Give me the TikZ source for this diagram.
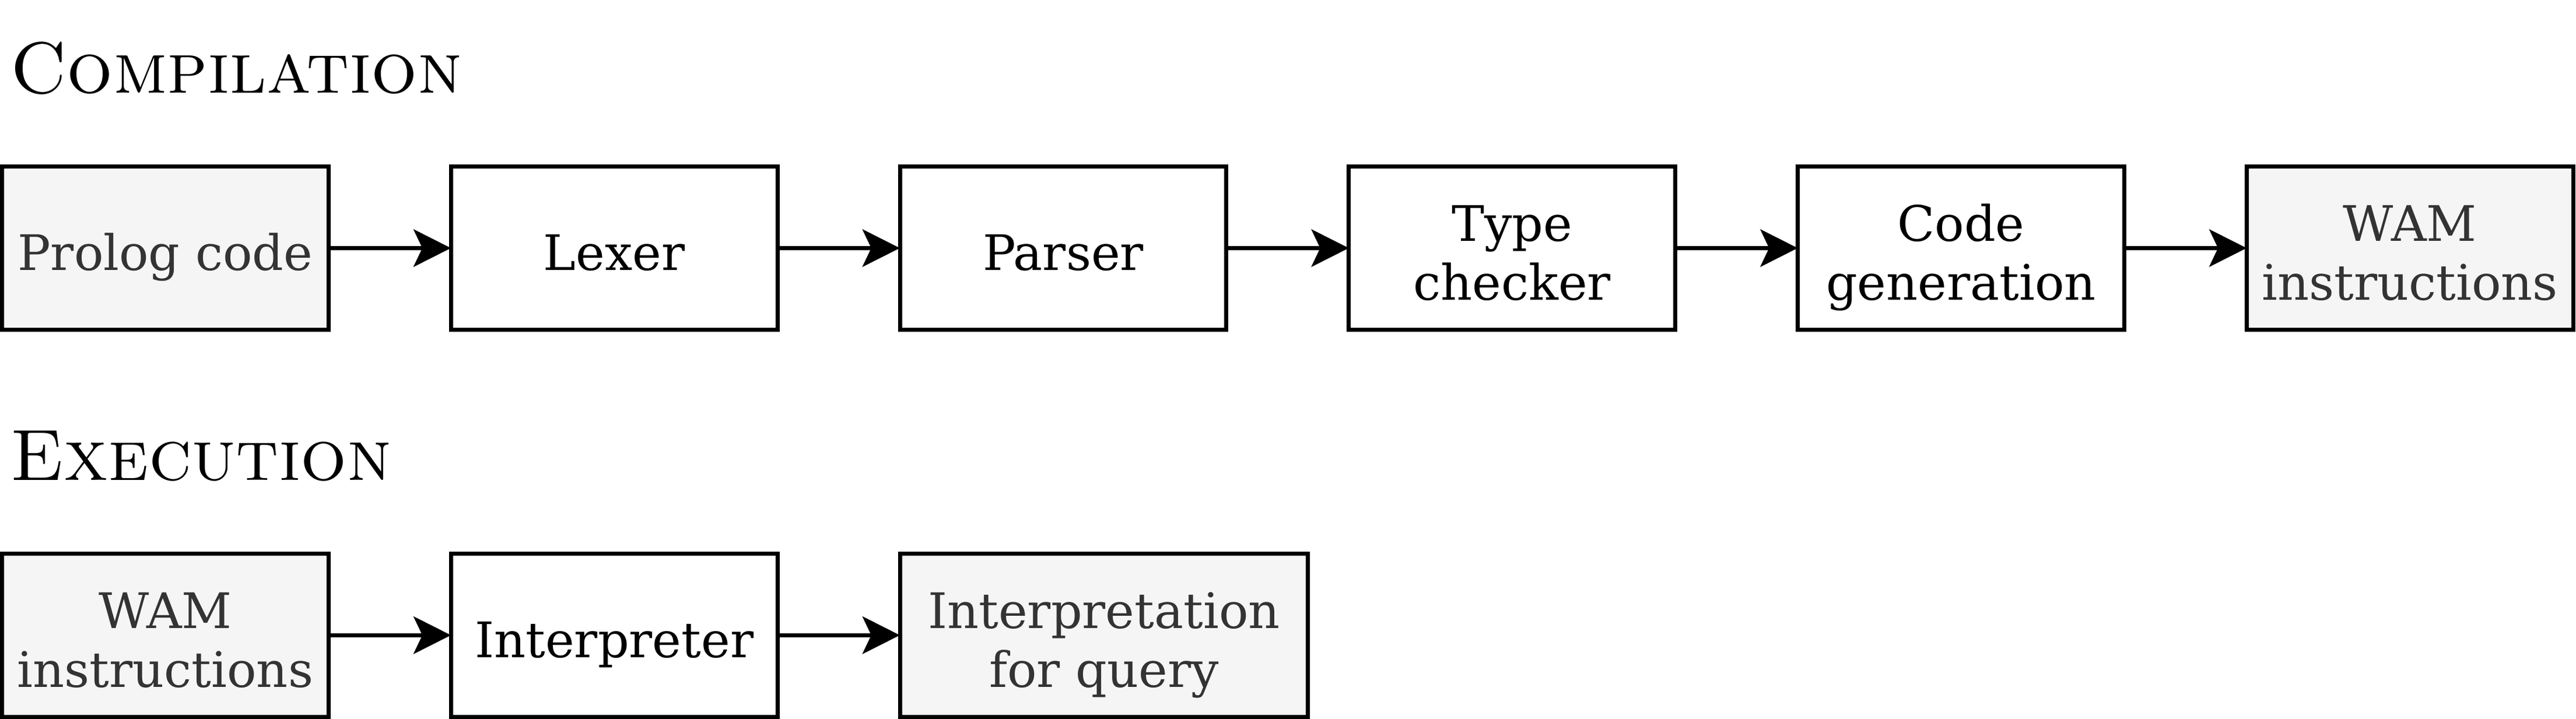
\documentclass[tikz,border=0pt]{standalone}
\usepackage{fontspec}
\newfontfamily\boxfont{DejaVu Serif}
\usetikzlibrary{arrows.meta}
\definecolor{boxgray}{HTML}{F5F5F5}
\definecolor{textgray}{HTML}{333333}
\begin{document}
\begin{tikzpicture}[
		x=0.75pt, y=0.75pt,
		% Stile per i titoli delle due fasi
		title style/.style={anchor=base west, inner sep=0pt, font=\fontsize{20}{24}\selectfont},
		% Stile per i blocchi (rettangoli bianchi)
		box style/.style={rectangle, draw=black, line width=1.125pt, fill=white, inner sep=0pt, outer sep=0pt,
			minimum width=90pt, minimum height=45pt, align=center, text=black,
			font=\boxfont\fontsize{13.5}{16.2}\selectfont, text height=12.2pt, text depth=0pt},
		% Blocchi con dati in ingresso/uscita (sfondo grigio)
		data style/.style={box style, fill=boxgray, text=textgray},
		% Testo su due righe
		two lines/.style={text height=28.6pt, text depth=0pt},
		% Stile per le frecce
		edge style/.style={line width=1.125pt, color=black, -{Stealth[length=10.3pt, width=10.3pt, inset=2.4pt]}}
	]
	\useasboundingbox (0,0) rectangle (946.8,-264.1);

	% =================================
	% COMPILAZIONE (In alto)
	% =================================
	\node[title style] (tcomp) at (3.4,-34.3) {\textsc{Compilation}};

	\node[data style] (prolog) at (60.75,-91.2) {Prolog code};
	\node[box style] (lexer) at (225.75,-91.2) {Lexer};
	\node[box style] (parser) at (390.75,-91.2) {Parser};
	\node[box style, two lines] (types) at (555.75,-91.2) {Type\\checker};
	\node[box style, two lines] (codegen) at (720.75,-91.2) {Code\\generation};
	\node[data style, two lines] (wamout) at (885.75,-91.2) {WAM\\instructions};

	% =================================
	% ESECUZIONE (In basso)
	% =================================
	\node[title style] (texec) at (3.4,-176.6) {\textsc{Execution}};

	\node[data style, two lines] (wamin) at (60.75,-233.5) {WAM\\instructions};
	\node[box style] (interp) at (225.75,-233.5) {Interpreter};
	\node[data style, two lines, minimum width=112.5pt] (result) at (405.75,-233.5) {Interpretation\\for query};

	% =================================
	% CONNESSIONI (Frecce)
	% =================================
	\draw[edge style] (prolog) -- (lexer);
	\draw[edge style] (lexer) -- (parser);
	\draw[edge style] (parser) -- (types);
	\draw[edge style] (types) -- (codegen);
	\draw[edge style] (codegen) -- (wamout);

	\draw[edge style] (wamin) -- (interp);
	\draw[edge style] (interp) -- (result);

\end{tikzpicture}
\end{document}
